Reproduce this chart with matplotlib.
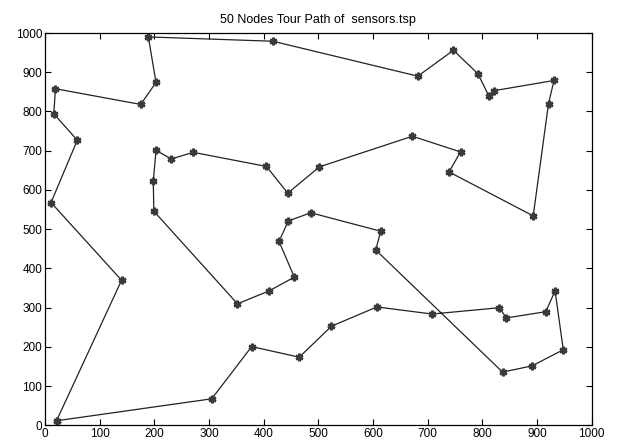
import matplotlib
matplotlib.use("Agg")
import matplotlib.pyplot as plt

# tour order through the 50 sensor nodes (closed loop)
node_x = [21, 305, 378, 465, 524, 607, 708, 831, 844, 916,
          933, 948, 891, 837, 605, 614, 486, 445, 428, 456,
          410, 352, 199, 198, 203, 231, 271, 405, 444, 502,
          672, 760, 739, 893, 921, 931, 821, 812, 792, 747,
          682, 417, 189, 203, 175, 19, 16, 59, 11, 140]
node_y = [12, 68, 201, 174, 253, 302, 284, 300, 274, 290,
          343, 193, 152, 136, 447, 495, 542, 521, 469, 378,
          343, 310, 546, 622, 701, 679, 696, 660, 592, 659,
          737, 697, 646, 534, 820, 879, 853, 839, 896, 956,
          890, 979, 990, 874, 818, 858, 794, 727, 568, 370]
ticks = list(range(0, 1001, 100))

plt.rcParams['font.family'] = ['Liberation Sans', 'DejaVu Sans']

fig = plt.figure(figsize=(6.17, 4.46), dpi=100)
ax = fig.add_axes([0.073, 0.046, 0.886, 0.880])

tour_x = node_x + [node_x[0]]
tour_y = node_y + [node_y[0]]
# asterisk markers, drawn heavy so they read as small dots
ax.plot(tour_x, tour_y, color='#222222', linewidth=0.9,
        marker=(6, 2, 0), markersize=5.5, markeredgewidth=1.8,
        markeredgecolor='#3a3a3a')

ax.set_xlim(0, 1000)
ax.set_ylim(0, 1000)
ax.set_xticks(ticks)
ax.set_yticks(ticks)
ax.tick_params(direction='in', length=4, width=0.8, labelsize=8.5,
               top=True, right=True, pad=2)
for side in ax.spines.values():
    side.set_linewidth(0.9)

ax.set_title("50 Nodes Tour Path of  sensors.tsp", fontsize=9, pad=7)

fig.savefig("out.png", dpi=100)
